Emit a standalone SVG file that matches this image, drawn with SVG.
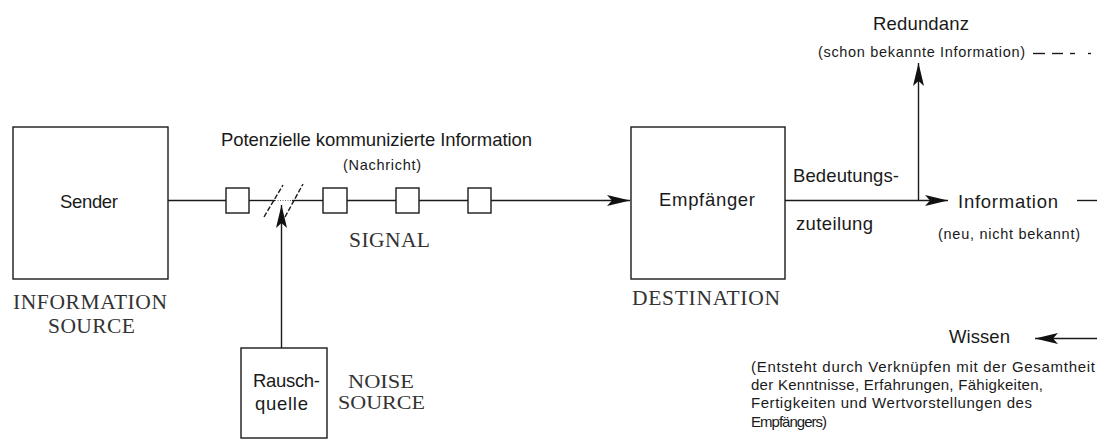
<svg xmlns="http://www.w3.org/2000/svg" width="1097" height="439" viewBox="0 0 1097 439">
<style>
.box{fill:#fff;stroke:#1a1a1a;stroke-width:1.4}
.ln{fill:none;stroke:#1a1a1a;stroke-width:1.4}
.s{font-family:"Liberation Sans",Arial,sans-serif;font-size:18.5px;fill:#1a1a1a}
.sm{font-family:"Liberation Sans",Arial,sans-serif;font-size:14.5px;fill:#1a1a1a}
.sp{font-family:"Liberation Sans",Arial,sans-serif;font-size:15px;fill:#1a1a1a}
.sf{font-family:"Liberation Serif","Times New Roman",serif;font-size:21.5px;fill:#333}
.sf2{font-family:"Liberation Serif","Times New Roman",serif;font-size:19.5px;fill:#333}
</style>
<defs>
<marker id="ah" viewBox="-24 -7 25 14" refX="0" refY="0" markerWidth="25" markerHeight="14" markerUnits="userSpaceOnUse" orient="auto">
<path d="M0,0 L-23,-5.5 L-18,0 L-23,5.5 Z" fill="#111"/>
</marker>
</defs>
<rect width="1097" height="439" fill="#fff"/>
<g id="connectors">
<line class="ln" x1="168" y1="200.5" x2="226" y2="200.5"/>
<line class="ln" x1="249" y1="200.5" x2="275" y2="200.5"/>
<line class="ln" x1="275" y1="200.5" x2="292" y2="200.5" stroke-dasharray="1 1.5" style="stroke:#666;stroke-width:1"/>
<line class="ln" x1="292" y1="200.5" x2="323" y2="200.5"/>
<line class="ln" x1="347" y1="200.5" x2="396" y2="200.5"/>
<line class="ln" x1="419" y1="200.5" x2="468" y2="200.5"/>
<line class="ln" x1="491" y1="200.5" x2="630" y2="200.5" marker-end="url(#ah)"/>
<line class="ln" x1="264" y1="217" x2="283" y2="185" stroke-dasharray="5 2"/>
<line class="ln" x1="285" y1="217" x2="303" y2="184" stroke-dasharray="5 2"/>
<line class="ln" x1="281.5" y1="348" x2="281.5" y2="205" marker-end="url(#ah)"/>
<line class="ln" x1="785" y1="200.5" x2="948" y2="200.5" marker-end="url(#ah)"/>
<line class="ln" x1="918.5" y1="200.5" x2="918.5" y2="63" marker-end="url(#ah)"/>
<line class="ln" x1="1077" y1="200.5" x2="1097" y2="200.5"/>
<line class="ln" x1="1097" y1="338.5" x2="1035" y2="338.5" marker-end="url(#ah)"/>
<g class="ln">
<line x1="1033" y1="53.5" x2="1045" y2="53.5"/>
<line x1="1052" y1="53.5" x2="1063" y2="53.5"/>
<line x1="1070" y1="53.5" x2="1075" y2="53.5"/>
<line x1="1088" y1="53.5" x2="1091" y2="53.5"/>
</g>
</g>
<g id="sender">
<rect class="box" x="13" y="127" width="155" height="152"/>
<text class="s" x="60" y="208" textLength="58" lengthAdjust="spacing">Sender</text>
<text class="sf" x="13" y="309" textLength="154" lengthAdjust="spacing">INFORMATION</text>
<text class="sf" x="48" y="333" textLength="87" lengthAdjust="spacing">SOURCE</text>
</g>
<g id="signal">
<rect class="box" x="226" y="188" width="23" height="25"/>
<rect class="box" x="323" y="188" width="24" height="25"/>
<rect class="box" x="396" y="188" width="23" height="25"/>
<rect class="box" x="468" y="188" width="23" height="25"/>
<text class="s" x="221" y="146" textLength="311" lengthAdjust="spacing">Potenzielle kommunizierte Information</text>
<text class="sm" x="343" y="170" textLength="78" lengthAdjust="spacing">(Nachricht)</text>
<text class="sf" x="349" y="247" textLength="81" lengthAdjust="spacing">SIGNAL</text>
</g>
<g id="noise">
<rect class="box" x="241" y="348" width="86" height="90"/>
<text class="s" x="253" y="387" textLength="67" lengthAdjust="spacing">Rausch-</text>
<text class="s" x="255" y="410" textLength="53" lengthAdjust="spacing">quelle</text>
<text class="sf2" x="348" y="387.5" textLength="66" lengthAdjust="spacingAndGlyphs">NOISE</text>
<text class="sf2" x="338" y="409" textLength="87" lengthAdjust="spacingAndGlyphs">SOURCE</text>
</g>
<g id="empfaenger">
<rect class="box" x="631" y="127" width="154" height="152"/>
<text class="s" x="659" y="206" textLength="96" lengthAdjust="spacing">Empfänger</text>
<text class="sf" x="632" y="305" textLength="148" lengthAdjust="spacing">DESTINATION</text>
</g>
<g id="bedeutungszuteilung">
<text class="s" x="793" y="182" textLength="106" lengthAdjust="spacing">Bedeutungs-</text>
<text class="s" x="796" y="230" textLength="77" lengthAdjust="spacing">zuteilung</text>
</g>
<g id="information">
<text class="s" x="958" y="208" textLength="100" lengthAdjust="spacing">Information</text>
<text class="sm" x="938" y="239" textLength="142" lengthAdjust="spacing">(neu, nicht bekannt)</text>
</g>
<g id="redundanz">
<text class="s" x="873" y="30" textLength="96" lengthAdjust="spacing">Redundanz</text>
<text class="sm" x="818" y="57" textLength="207" lengthAdjust="spacing">(schon bekannte Information)</text>
</g>
<g id="wissen">
<text class="s" x="949" y="343" textLength="61" lengthAdjust="spacing">Wissen</text>
<text class="sp" x="751" y="372" textLength="344" lengthAdjust="spacing">(Entsteht durch Verknüpfen mit der Gesamtheit</text>
<text class="sp" x="751" y="390" textLength="292" lengthAdjust="spacing">der Kenntnisse, Erfahrungen, Fähigkeiten,</text>
<text class="sp" x="751" y="408" textLength="281" lengthAdjust="spacing">Fertigkeiten und Wertvorstellungen des</text>
<text class="sp" x="751" y="427" textLength="76" lengthAdjust="spacing">Empfängers)</text>
</g>
</svg>
